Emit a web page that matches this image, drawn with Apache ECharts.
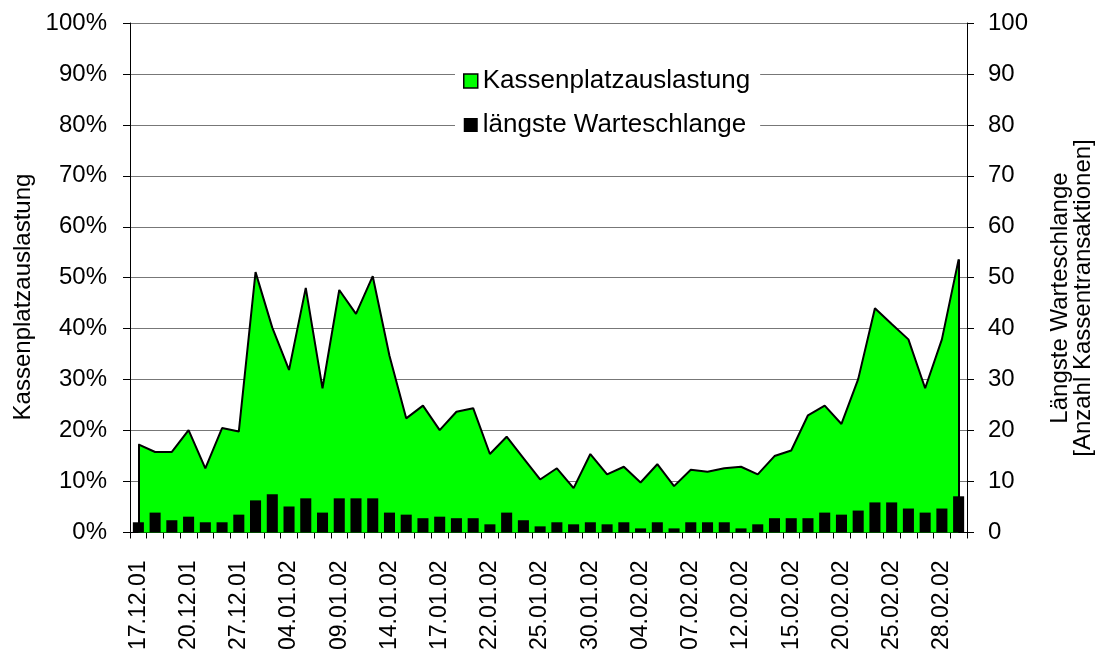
<!DOCTYPE html>
<html>
<head>
<meta charset="utf-8">
<script src="https://cdn.jsdelivr.net/npm/echarts@6/dist/echarts.min.js"></script>
<style>
html,body{margin:0;padding:0;background:#fff;}
#chart{width:1097px;height:653px;}
</style>
</head>
<body>
<div id="chart"></div>
<script>
const categories = ['17.12.01','18.12.01','19.12.01','20.12.01','21.12.01','24.12.01','27.12.01','28.12.01','31.12.01',
  '04.01.02','07.01.02','08.01.02','09.01.02','10.01.02','11.01.02','14.01.02','15.01.02','16.01.02','17.01.02','18.01.02',
  '21.01.02','22.01.02','23.01.02','24.01.02','25.01.02','28.01.02','29.01.02','30.01.02','31.01.02','01.02.02',
  '04.02.02','05.02.02','06.02.02','07.02.02','08.02.02','11.02.02','12.02.02','13.02.02','14.02.02','15.02.02',
  '18.02.02','19.02.02','20.02.02','21.02.02','22.02.02','25.02.02','26.02.02','27.02.02','28.02.02','01.03.02'];
const auslastung = [17.3,15.8,15.8,20.1,12.6,20.5,19.8,51.1,40.2,31.9,48.0,28.3,47.6,42.9,50.3,34.7,22.4,24.9,20.1,23.7,
  24.4,15.4,18.8,14.6,10.4,12.6,8.7,15.4,11.4,12.9,9.8,13.4,9.1,12.3,11.9,12.6,12.9,11.4,15.0,16.1,
  23.0,24.9,21.3,30.1,44.0,40.9,37.9,28.3,37.9,53.6];
const warteschlange = [2.0,3.9,2.4,3.1,2.0,2.0,3.5,6.3,7.5,5.1,6.7,3.9,6.7,6.7,6.7,3.9,3.5,2.8,3.1,2.8,
  2.8,1.6,3.9,2.4,1.2,2.0,1.6,2.0,1.6,2.0,0.8,2.0,0.8,2.0,2.0,2.0,0.8,1.6,2.8,2.8,
  2.8,3.9,3.5,4.3,5.9,5.9,4.7,3.9,4.7,7.1];

const FONT = '"Liberation Sans", Arial, sans-serif';
const chart = echarts.init(document.getElementById('chart'), null, {renderer:'canvas'});
const last = categories.length - 1;
chart.setOption({
  animation: false,
  backgroundColor: '#fff',
  textStyle: {fontFamily: FONT, color: '#000'},
  grid: {left: 130, right: 130, top: 23, height: 512, containLabel: false},
  legend: {
    orient: 'vertical',
    left: 455, top: 60,
    padding: [6, 10, 6, 8],
    backgroundColor: '#fff',
    itemWidth: 14, itemHeight: 14, itemGap: 14,
    textStyle: {fontFamily: FONT, fontSize: 26, color: '#000', lineHeight: 30},
    data: [
      {name: 'Kassenplatzauslastung', icon: 'rect', itemStyle: {color: '#00ff00', borderColor: '#000', borderWidth: 1.5}},
      {name: 'längste Warteschlange', icon: 'rect', itemStyle: {color: '#000'}}
    ]
  },
  xAxis: {
    type: 'category',
    data: categories,
    boundaryGap: true,
    axisLine: {lineStyle: {color: '#000', width: 1}},
    axisTick: {show: true, interval: 0, length: 6, lineStyle: {color: '#000'}},
    axisLabel: {interval: 2, rotate: 90, fontSize: 23, color: '#000', fontFamily: FONT, margin: 28}
  },
  yAxis: [
    {
      type: 'value', min: 0, max: 100, interval: 10,
      axisLine: {show: true, lineStyle: {color: '#000'}},
      axisTick: {show: true, length: 7, lineStyle: {color: '#000'}},
      axisLabel: {formatter: v => v + '%', fontSize: 24, color: '#000', fontFamily: FONT, margin: 23},
      splitLine: {show: true, lineStyle: {color: '#777', width: 1.2}}
    },
    {
      type: 'value', min: 0, max: 100, interval: 10,
      axisLine: {show: true, lineStyle: {color: '#000'}},
      axisTick: {show: true, length: 7, lineStyle: {color: '#000'}},
      axisLabel: {fontSize: 24, color: '#000', fontFamily: FONT, margin: 21},
      splitLine: {show: false}
    }
  ],
  series: [
    {
      name: 'Kassenplatzauslastung',
      type: 'line',
      yAxisIndex: 0,
      z: 2,
      data: auslastung,
      symbol: 'none',
      lineStyle: {color: '#000', width: 2},
      itemStyle: {color: '#00ff00'},
      areaStyle: {color: '#00ff00', opacity: 1},
      markLine: {
        silent: true, symbol: 'none', label: {show: false},
        lineStyle: {color: '#000', width: 2, type: 'solid'},
        data: [
          [{coord: [categories[0], 0]}, {coord: [categories[0], auslastung[0]]}],
          [{coord: [categories[last], 0]}, {coord: [categories[last], auslastung[last]]}]
        ]
      }
    },
    {
      name: 'längste Warteschlange',
      type: 'bar',
      yAxisIndex: 1,
      z: 6,
      data: warteschlange,
      barCategoryGap: '34%',
      itemStyle: {color: '#000'}
    }
  ],
  graphic: [
    {type: 'text', x: 23, y: 297, rotation: Math.PI/2,
     style: {text: 'Kassenplatzauslastung', font: '24px ' + FONT, fill: '#000', textAlign: 'center', textVerticalAlign: 'middle'}},
    {type: 'text', x: 1060, y: 298, rotation: Math.PI/2,
     style: {text: 'Längste Warteschlange', font: '24px ' + FONT, fill: '#000', textAlign: 'center', textVerticalAlign: 'middle'}},
    {type: 'text', x: 1083, y: 298, rotation: Math.PI/2,
     style: {text: '[Anzahl Kassentransaktionen]', font: '24px ' + FONT, fill: '#000', textAlign: 'center', textVerticalAlign: 'middle'}}
  ]
});
</script>
</body>
</html>
